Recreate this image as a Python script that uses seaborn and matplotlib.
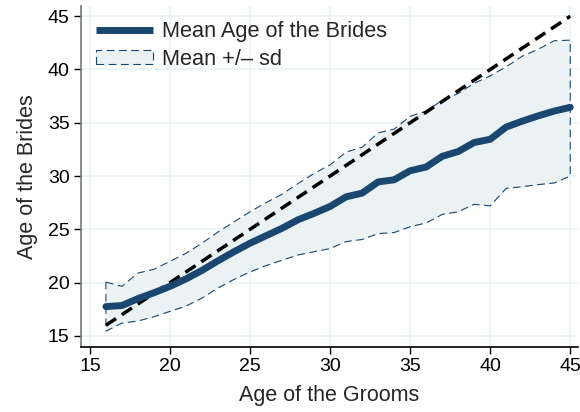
import numpy as np
import pandas as pd
import matplotlib
matplotlib.use("Agg")
import matplotlib.pyplot as plt
import seaborn as sns
from matplotlib.patches import Patch
from matplotlib.lines import Line2D

# ages of the grooms and the brides' mean age +/- one sd
groom_age = list(range(16, 46))
bride_mean = [17.75, 17.85, 18.5, 19.05, 19.65, 20.35, 21.15, 22.05, 22.9, 23.7,
              24.4, 25.1, 25.9, 26.5, 27.15, 28.05, 28.4, 29.45, 29.65, 30.5,
              30.85, 31.85, 32.3, 33.15, 33.45, 34.6, 35.15, 35.65, 36.1, 36.45]
bride_upper = [20.05, 19.65, 20.9, 21.25, 22.0, 22.75, 23.7, 24.75, 25.7, 26.65,
               27.5, 28.3, 29.3, 30.25, 31.05, 32.25, 32.7, 34.05, 34.4, 35.6,
               36.1, 37.1, 37.75, 38.7, 39.4, 40.25, 41.25, 41.9, 42.7, 42.75]
bride_lower = [15.45, 16.2, 16.4, 16.8, 17.3, 17.8, 18.55, 19.5, 20.3, 21.0,
               21.6, 22.1, 22.6, 22.9, 23.2, 23.85, 24.05, 24.6, 24.7, 25.25,
               25.6, 26.4, 26.65, 27.35, 27.2, 28.85, 29.0, 29.2, 29.35, 30.0]

NAVY = "#1a476f"
FILL = "#eaf2f3"

sns.set_theme(style="white")
plt.rcParams["font.family"] = ["Liberation Sans", "DejaVu Sans"]

df = pd.DataFrame({"groom": groom_age, "mean": bride_mean,
                   "upper": bride_upper, "lower": bride_lower})

fig = plt.figure(figsize=(5.8, 4.12), dpi=100)
ax = fig.add_axes([0.139, 0.158, 0.858, 0.827])

# band of mean +/- sd, outlined with a thin dashed line
ax.fill_between(df["groom"], df["lower"], df["upper"], color=FILL, linewidth=0, zorder=1)
poly_x = list(df["groom"]) + list(df["groom"])[::-1] + [df["groom"].iloc[0]]
poly_y = list(df["upper"]) + list(df["lower"])[::-1] + [df["upper"].iloc[0]]
ax.plot(poly_x, poly_y, color=NAVY, linewidth=0.8, dashes=(7, 4), zorder=2)

# 45 degree reference line
ax.plot([groom_age[0], groom_age[-1]], [groom_age[0], groom_age[-1]],
        color="black", linewidth=2.5, dashes=(3.5, 2), zorder=3)

sns.lineplot(data=df, x="groom", y="mean", color=NAVY, linewidth=5,
             solid_capstyle="round", ax=ax, zorder=4)

ax.set_xlim(14.42, 45.5)
ax.set_ylim(13.97, 45.94)
ax.set_xticks(range(15, 50, 5))
ax.set_yticks(range(15, 50, 5))
ax.grid(True, color=FILL, linewidth=1.2)
ax.set_axisbelow(True)

sns.despine(ax=ax)
ax.spines["left"].set_color("#777777")
ax.spines["left"].set_linewidth(1.2)
ax.spines["bottom"].set_color("black")
ax.spines["bottom"].set_linewidth(1.2)
ax.tick_params(axis="both", which="major", direction="out", length=5, width=1,
               labelsize=14, colors="black", bottom=True, left=True, pad=3)
ax.set_xlabel("Age of the Grooms", fontsize=15.5, labelpad=7)
ax.set_ylabel("Age of the Brides", fontsize=15.5, labelpad=7)

handles = [Line2D([0], [0], color=NAVY, linewidth=5, solid_capstyle="butt"),
           Patch(facecolor=FILL, edgecolor=NAVY, linestyle=(0, (7, 4)), linewidth=0.8)]
ax.legend(handles, ["Mean Age of the Brides", "Mean +/\u2013 sd"], loc="upper left",
          frameon=False, fontsize=15.7, handlelength=2.6, handleheight=0.6,
          handletextpad=0.45, labelspacing=0.28, borderaxespad=0.3,
          bbox_to_anchor=(0.0, 1.0))

fig.savefig("out.png", dpi=100)
